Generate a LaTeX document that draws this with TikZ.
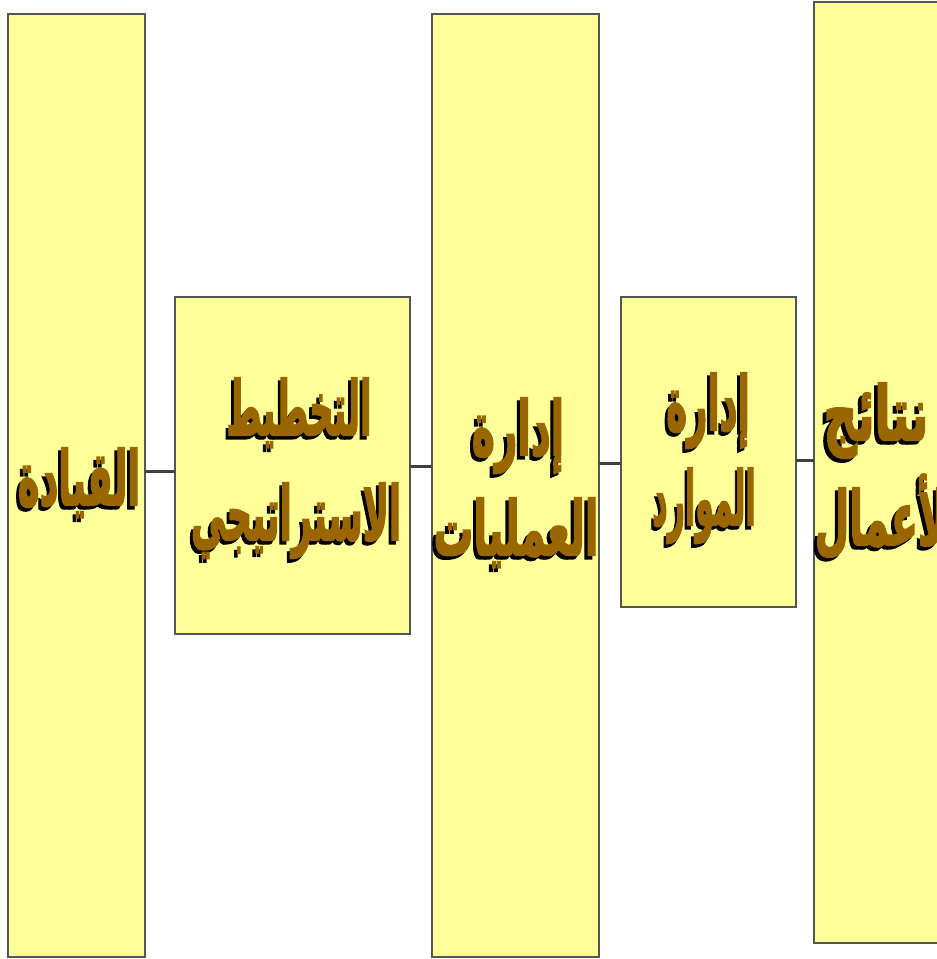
\documentclass[tikz,border=0pt]{standalone}
\usepackage{fontspec}
\usepackage{graphicx}
\newfontfamily\arabicfont[Script=Arabic, FakeBold=3]{DejaVu Sans Bold}
\TeXXeTstate=1
\definecolor{boxfill}{HTML}{FFFF99}
\definecolor{boxline}{HTML}{555555}
\definecolor{txtbrown}{HTML}{996600}
\definecolor{conn}{HTML}{404040}
\newcommand\arbox[1]{{\fontsize{75}{90}\selectfont\arabicfont\beginR #1\endR}}
\newcommand\arw[2]{\scalebox{#1}[1]{\rlap{\kern-6pt\raisebox{-3.5pt}{\color{black}\arbox{#2}}}\arbox{#2}}}
\tikzset{
  panel/.style={draw=boxline, line width=2pt, fill=boxfill},
  word/.style={inner sep=0pt, anchor=base, text=txtbrown},
  link/.style={draw=conn, line width=3pt}
}
\begin{document}
\begin{tikzpicture}[x=1pt,y=-1pt]
\useasboundingbox (0,0) rectangle (937,959);
\begin{scope}
\clip (0,0) rectangle (937,959);
\path[panel] (8,14) rectangle (145,957) node[pos=0.5, inner sep=0] (b1) {};
\path[panel] (175,297) rectangle (410,634) node[pos=0.5, inner sep=0] (b2) {};
\path[panel] (432,14) rectangle (599,957) node[pos=0.5, inner sep=0] (b3) {};
\path[panel] (621,297) rectangle (796,607) node[pos=0.5, inner sep=0] (b4) {};
\path[panel] (814,2) rectangle (945,943) node[pos=0.5, inner sep=0] (b5) {};
\coordinate (e1) at (145,471); \coordinate (w2) at (175,471);
\coordinate (e2) at (410,466); \coordinate (w3) at (432,466);
\coordinate (e3) at (599,463); \coordinate (w4) at (621,463);
\coordinate (e4) at (796,460); \coordinate (w5) at (814,460);
\draw[link] (e1) -- (w2);
\draw[link] (e2) -- (w3);
\draw[link] (e3) -- (w4);
\draw[link] (e4) -- (w5);
\node[word] (t1) at (79,505) {\arw{0.49}{القيادة}};
\node[word] (t2a) at (299,435) {\arw{0.45}{التخطيط}};
\node[word] (t2b) at (296,540) {\arw{0.47}{الاستراتيجي}};
\node[word] (t3a) at (518,455) {\arw{0.52}{إدارة}};
\node[word] (t3b) at (516,555) {\arw{0.53}{العمليات}};
\node[word] (t4a) at (708,430) {\arw{0.47}{إدارة}};
\node[word] (t4b) at (704,525) {\arw{0.40}{الموارد}};
\node[word] (t5a) at (876,440) {\arw{0.62}{نتائج}};
\node[word] (t5b) at (888,545) {\arw{0.53}{الأعمال}};
\end{scope}
\end{tikzpicture}
\end{document}
